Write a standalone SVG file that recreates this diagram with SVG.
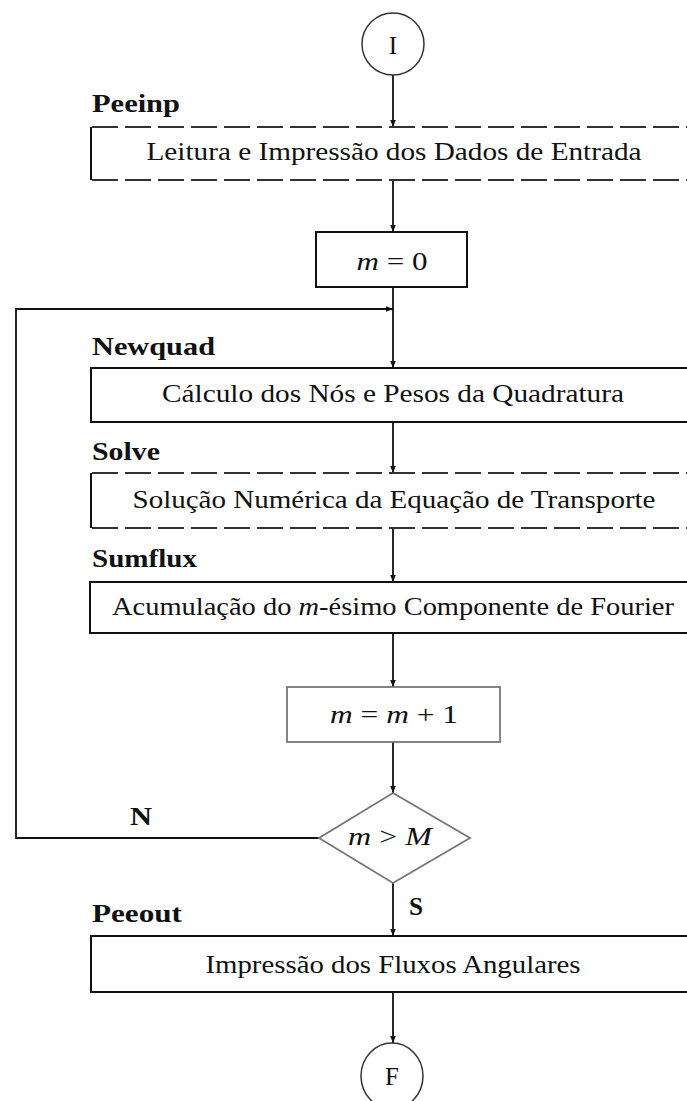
<svg xmlns="http://www.w3.org/2000/svg" width="687" height="1101" viewBox="0 0 687 1101">
<defs>
<marker id="ah" viewBox="0 0 10 10" refX="10" refY="5" markerWidth="7" markerHeight="7" orient="auto" markerUnits="userSpaceOnUse">
<path d="M0,1 L10,5 L0,9 z" fill="#111"/>
</marker>
</defs>
<style>
.bx{fill:#fff;stroke:#111;stroke-width:2}
.dash{stroke-dasharray:26 7}
.gr{fill:#fff;stroke:#777;stroke-width:1.8}
.ln{fill:none;stroke:#111;stroke-width:1.8}
.t{font-family:"Liberation Serif",serif;font-size:25px;fill:#111;text-anchor:middle}
.lb{font-family:"Liberation Serif",serif;font-size:25px;font-weight:bold;fill:#111}
.it{font-style:italic}
</style>
<rect width="687" height="1101" fill="#fff"/>
<g id="connectors">
<line class="ln" x1="393" y1="75" x2="393" y2="127" marker-end="url(#ah)"/>
<line class="ln" x1="393" y1="180" x2="393" y2="232" marker-end="url(#ah)"/>
<line class="ln" x1="393" y1="287" x2="393" y2="368" marker-end="url(#ah)"/>
<polyline class="ln" points="319,838 16,838 16,309 393,309" marker-end="url(#ah)"/>
<line class="ln" x1="393" y1="422" x2="393" y2="473" marker-end="url(#ah)"/>
<line class="ln" x1="393" y1="528" x2="393" y2="582" marker-end="url(#ah)"/>
<line class="ln" x1="393" y1="633" x2="393" y2="687" marker-end="url(#ah)"/>
<line class="ln" x1="393" y1="742" x2="393" y2="793" marker-end="url(#ah)"/>
<line class="ln" x1="393" y1="883" x2="393" y2="936" marker-end="url(#ah)"/>
<line class="ln" x1="393" y1="992" x2="393" y2="1043" marker-end="url(#ah)"/>
<text class="lb" x="130" y="825" textLength="22" lengthAdjust="spacingAndGlyphs">N</text>
<text class="lb" x="409" y="915" textLength="14" lengthAdjust="spacingAndGlyphs">S</text>
</g>
<g id="inicio">
<ellipse cx="393" cy="44" rx="31" ry="31" fill="#fff" stroke="#333" stroke-width="1.5"/>
<text class="t" x="393" y="54">I</text>
</g>
<g id="peeinp">
<text class="lb" x="92" y="112" textLength="88" lengthAdjust="spacingAndGlyphs">Peeinp</text>
<rect x="92" y="127" width="620" height="53" fill="#fff" stroke="none"/>
<line x1="91" y1="127" x2="91" y2="180" stroke="#111" stroke-width="2"/>
<line class="dash" x1="92" y1="127" x2="700" y2="127" stroke="#333" stroke-width="2"/>
<line class="dash" x1="92" y1="180" x2="700" y2="180" stroke="#333" stroke-width="2"/>
<text class="t" x="394" y="160" textLength="495" lengthAdjust="spacingAndGlyphs">Leitura e Impressão dos Dados de Entrada</text>
</g>
<g id="m0">
<rect class="bx" x="316" y="232" width="151" height="55"/>
<text class="t" x="392" y="270" textLength="71" lengthAdjust="spacingAndGlyphs"><tspan class="it">m</tspan> = 0</text>
</g>
<g id="newquad">
<text class="lb" x="92" y="355" textLength="123" lengthAdjust="spacingAndGlyphs">Newquad</text>
<rect class="bx" x="91" y="368" width="620" height="54"/>
<text class="t" x="393" y="402" textLength="462" lengthAdjust="spacingAndGlyphs">Cálculo dos Nós e Pesos da Quadratura</text>
</g>
<g id="solve">
<text class="lb" x="92" y="460" textLength="68" lengthAdjust="spacingAndGlyphs">Solve</text>
<rect x="92" y="473" width="620" height="55" fill="#fff" stroke="none"/>
<line x1="91" y1="473" x2="91" y2="528" stroke="#111" stroke-width="2"/>
<line class="dash" x1="92" y1="473" x2="700" y2="473" stroke="#333" stroke-width="2"/>
<line class="dash" x1="92" y1="528" x2="700" y2="528" stroke="#333" stroke-width="2"/>
<text class="t" x="394" y="508" textLength="523" lengthAdjust="spacingAndGlyphs">Solução Numérica da Equação de Transporte</text>
</g>
<g id="sumflux">
<text class="lb" x="92" y="567" textLength="105" lengthAdjust="spacingAndGlyphs">Sumflux</text>
<rect class="bx" x="90" y="582" width="620" height="51"/>
<text class="t" x="393" y="615" textLength="562" lengthAdjust="spacingAndGlyphs">Acumulação do <tspan class="it">m</tspan>-ésimo Componente de Fourier</text>
</g>
<g id="mm1">
<rect class="gr" x="287" y="687" width="213" height="55"/>
<text class="t" x="394" y="723" fill="#444" textLength="128" lengthAdjust="spacingAndGlyphs"><tspan class="it">m</tspan> = <tspan class="it">m</tspan> + 1</text>
</g>
<g id="decisao">
<polygon class="gr" points="393,793 470,838 393,883 319,838"/>
<text class="t" x="390" y="845" fill="#444" textLength="84" lengthAdjust="spacingAndGlyphs"><tspan class="it">m</tspan> &gt; <tspan class="it">M</tspan></text>
</g>
<g id="peeout">
<text class="lb" x="92" y="922" textLength="90" lengthAdjust="spacingAndGlyphs">Peeout</text>
<rect class="bx" x="91" y="936" width="620" height="56"/>
<text class="t" x="393" y="973" textLength="375" lengthAdjust="spacingAndGlyphs">Impressão dos Fluxos Angulares</text>
</g>
<g id="fim">
<ellipse cx="392" cy="1076" rx="31" ry="33" fill="#fff" stroke="#333" stroke-width="1.5"/>
<text class="t" x="392" y="1085">F</text>
</g>
</svg>
